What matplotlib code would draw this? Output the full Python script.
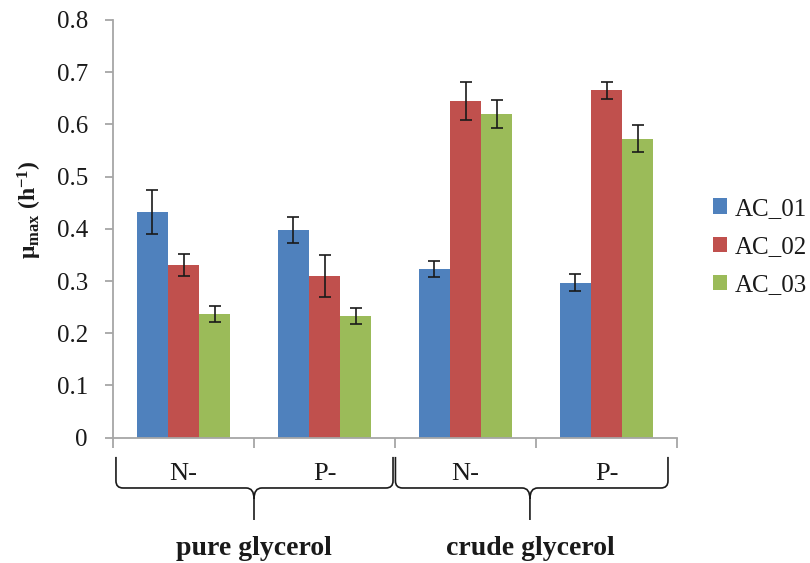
import matplotlib
matplotlib.use("Agg")
import matplotlib.pyplot as plt
import numpy as np
from matplotlib.path import Path
from matplotlib.patches import PathPatch
from matplotlib.transforms import blended_transform_factory

plt.rcParams['font.family'] = ['Liberation Serif', 'DejaVu Serif']
plt.rcParams['mathtext.fontset'] = 'custom'
plt.rcParams['mathtext.rm'] = 'Liberation Serif'
plt.rcParams['mathtext.bf'] = 'Liberation Serif:bold'
plt.rcParams['mathtext.it'] = 'Liberation Serif:italic'

# ---- data ----
categories = ["N-", "P-", "N-", "P-"]
groups = ["pure glycerol", "crude glycerol"]
series = ["AC_01", "AC_02", "AC_03"]
ac01 = [0.433, 0.397, 0.323, 0.297]
ac02 = [0.330, 0.310, 0.645, 0.665]
ac03 = [0.237, 0.233, 0.620, 0.573]
ac01_err = [0.042, 0.025, 0.016, 0.016]
ac02_err = [0.021, 0.040, 0.037, 0.016]
ac03_err = [0.016, 0.016, 0.027, 0.025]
yticks = [0, 0.1, 0.2, 0.3, 0.4, 0.5, 0.6, 0.7, 0.8]
ytick_labels = ["0", "0.1", "0.2", "0.3", "0.4", "0.5", "0.6", "0.7", "0.8"]

colors = ["#4F81BD", "#C0504D", "#9BBB59"]
axis_gray = "#A6A6A6"

fig = plt.figure(figsize=(8.10, 5.63), dpi=100)
W, H = 810, 563
ax_l, ax_r, ax_t, ax_b = 113, 677, 20, 437.7
ax = fig.add_axes([ax_l / W, 1 - ax_b / H, (ax_r - ax_l) / W, (ax_b - ax_t) / H])

x = np.arange(len(categories))
bw = 0.222
vals = [ac01, ac02, ac03]
errs = [ac01_err, ac02_err, ac03_err]
for i in range(3):
    ax.bar(x + (i - 1) * bw, vals[i], width=bw, color=colors[i], label=series[i],
           yerr=errs[i], error_kw=dict(ecolor="#1a1a1a", elinewidth=1.2, capsize=4.5, capthick=1.2),
           edgecolor='none', zorder=2)

ax.set_xlim(-0.5, 3.5)
ax.set_ylim(0, 0.8)
ax.set_yticks(yticks, labels=ytick_labels)
ax.set_xticks(np.arange(-0.5, 4.0, 1.0), labels=[])
for s in ["top", "right"]:
    ax.spines[s].set_visible(False)
for s in ["left", "bottom"]:
    ax.spines[s].set_color(axis_gray)
    ax.spines[s].set_linewidth(1.3)
ax.tick_params(axis='y', direction='out', length=6, width=1.3, color=axis_gray,
               labelsize=18, pad=12, labelcolor="#1a1a1a")
ax.tick_params(axis='x', direction='out', length=7, width=1.3, color=axis_gray)

# category labels
trans = blended_transform_factory(ax.transData, ax.transAxes)
for xi, c in zip(x, categories):
    ax.text(xi, -0.1013, c, transform=trans, ha='center', va='baseline', fontsize=19,
            color="#1a1a1a", clip_on=False)

# braces
def brace(x0, x1, xc, yt=-0.046, yh=-0.1204, ytip=-0.197, rx=0.05, ry=0.017, rcx=0.055, rcy=0.026):
    verts = [(x0, yt), (x0, yh + ry), (x0, yh), (x0 + rx, yh),
             (xc - rcx, yh), (xc, yh), (xc, yh - rcy), (xc, ytip),
             (xc, yh - rcy), (xc, yh), (xc + rcx, yh),
             (x1 - rx, yh), (x1, yh), (x1, yh + ry), (x1, yt)]
    codes = [Path.MOVETO, Path.LINETO, Path.CURVE3, Path.CURVE3,
             Path.LINETO, Path.CURVE3, Path.CURVE3, Path.LINETO,
             Path.MOVETO, Path.CURVE3, Path.CURVE3,
             Path.LINETO, Path.CURVE3, Path.CURVE3, Path.LINETO]
    p = PathPatch(Path(verts, codes), facecolor='none', edgecolor="#1a1a1a", lw=1.2,
                  transform=trans, clip_on=False)
    ax.add_patch(p)

brace(-0.479, 1.486, 0.5)
brace(1.503, 3.436, 2.457)

ax.text(0.5, -0.2808, groups[0], transform=trans, ha='center', va='baseline', fontsize=20,
        fontweight='bold', color="#1a1a1a", clip_on=False)
ax.text(2.457, -0.2808, groups[1], transform=trans, ha='center', va='baseline', fontsize=20,
        fontweight='bold', color="#1a1a1a", clip_on=False)

# y label
fig.text(30 / W, 1 - 210 / H, r'μ$_{\mathbf{max}}$ (h$^{\mathbf{-1}}$)', rotation=90,
         ha='center', va='center', fontsize=17, fontweight='bold', color="#1a1a1a")

leg = fig.legend(loc='center left', bbox_to_anchor=(713 / W, 1 - 247 / H), frameon=False,
                 fontsize=18, handlelength=0.56, handleheight=0.56, handletextpad=0.3,
                 labelspacing=0.65, borderpad=0, borderaxespad=0)
for t in leg.get_texts():
    t.set_color("#1a1a1a")

fig.savefig("out.png", dpi=100)
